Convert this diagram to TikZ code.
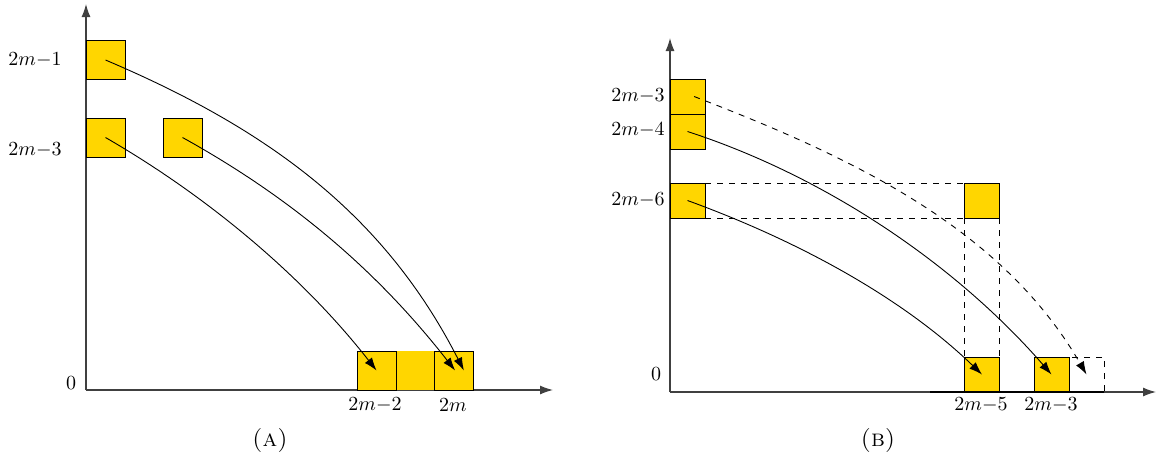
\documentclass[tikz,border=0pt]{standalone}
\usetikzlibrary{arrows.meta}
\definecolor{gold}{RGB}{255,214,0}
\tikzset{
  sq/.style={draw=black, fill=gold, minimum size=19.5pt, inner sep=0pt, outer sep=0pt},
  sqs/.style={sq, minimum size=17.5pt},
  ar/.style={-{Latex[length=6.5pt,width=4.5pt]}, line width=0.45pt},
  ax/.style={-{Latex[length=6.5pt,width=4.5pt]}, line width=0.6pt, black!75},
  lbl/.style={font=\normalsize, inner sep=0pt},
}
\begin{document}
\begin{tikzpicture}[x=0.5pt, y=0.5pt]
\useasboundingbox (0,0) rectangle (1166,-461);
% panel (A)
\coordinate (oa) at (86,-390);
\draw[ax] (oa) -- (86,-4);
\draw[ax] (oa) -- (553,-390);
\fill[gold] (396,-351) rectangle (434,-390);
\node[sq] (a1) at (105.5,-60) {};
\node[sq] (a3) at (105.5,-137.5) {};
\node[sq] (a3r) at (182.5,-137.5) {};
\node[sq] (a2) at (376.5,-370.5) {};
\node[sq] (a0) at (453.5,-370.5) {};
\node[lbl] (la1) at (35,-60) {$2m{-}1$};
\node[lbl] (la3) at (35,-150) {$2m{-}3$};
\node[lbl] (la0) at (71,-383) {$0$};
\node[lbl] (la2) at (375,-405) {$2m{-}2$};
\node[lbl] (lam) at (453,-405) {$2m$};
\draw[ar] (a1.center) to[out=-23,in=117,looseness=0.95] ([xshift=5.2pt]a0.center);
\draw[ar] (a3r.center) to[out=-29,in=128,looseness=0.9] ([xshift=0.8pt]a0.center);
\draw[ar] (a3.center) to[out=-30,in=128,looseness=0.85] (a2.center);
\node (capa) at (270,-440) {\large\textsc{(a)}};
% panel (B)
\coordinate (ob) at (670,-392);
\draw[ax] (ob) -- (670,-38);
\draw[ax] (ob) -- (1156,-392);
\node[sqs] (b3) at (687.5,-96.5) {};
\node[sqs] (b4) at (687.5,-131.5) {};
\node[sqs] (b6) at (687.5,-200.5) {};
\node[sqs] (c6) at (982,-200.5) {};
\node[sqs] (b5) at (982,-374.5) {};
\node[sqs] (bm) at (1051.5,-374.5) {};
\node[sqs, fill=none, dashed] (bd) at (1086.5,-374.5) {};
\draw[line width=0.9pt] (930,-392) -- (bd.south east);
\draw[dashed] (b6.north east) -- (c6.north west);
\draw[dashed] (b6.south east) -- (c6.south west);
\draw[dashed] (c6.south west) -- (b5.north west);
\draw[dashed] (c6.south east) -- (b5.north east);
\node[lbl] (lb3) at (638,-96) {$2m{-}3$};
\node[lbl] (lb4) at (638,-130) {$2m{-}4$};
\node[lbl] (lb6) at (638,-200) {$2m{-}6$};
\node[lbl] (lb0) at (656,-374) {$0$};
\node[lbl] (lb5) at (981,-405) {$2m{-}5$};
\node[lbl] (lbm) at (1051,-405) {$2m{-}3$};
\draw[ar, dashed] ([xshift=3.3pt]b3.center) to[out=-21,in=120,looseness=0.9] (bd.center);
\draw[ar] (b4.center) to[out=-18,in=131,looseness=0.85] (bm.center);
\draw[ar] (b6.center) to[out=-20,in=136,looseness=0.85] (b5.center);
\node (capb) at (878,-440) {\large\textsc{(b)}};
\end{tikzpicture}
\end{document}
